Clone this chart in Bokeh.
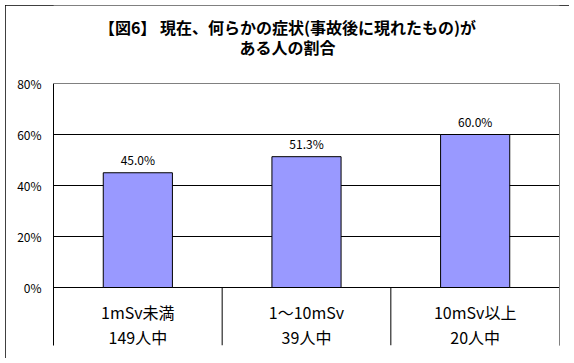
from bokeh.plotting import figure
from bokeh.models import (ColumnDataSource, FixedTicker, Span, LinearAxis,
                          FactorRange, Range1d)
from bokeh.core.properties import value
from bokeh.embed import file_html
from bokeh.resources import INLINE

# ---- data ----
categories = ["1mSv未満", "1〜10mSv", "10mSv以上"]
counts = ["149人中", "39人中", "20人中"]
percent = [45.0, 51.3, 60.0]
ytick_vals = [0, 20, 40, 60, 80]
ytick_labels = ["0%", "20%", "40%", "60%", "80%"]
title_lines = ["【図6】 現在、何らかの症状(事故後に現れたもの)が", "ある人の割合"]

FONT = value("Noto Sans CJK JP")

# ---- geometry (page pixels) ----
M = 5                                   # figure margin -> chart border at 5px
W, H = 564, 353
FL, FR, FT, FB = 53, 559, M, 345        # frame edges on the page
PT = 83                                 # plot area top (80%)
Y0 = 287                                # page y of 0%
ppu = (Y0 - PT) / 80.0                  # pixels per percent
ymin = -(FB - Y0) / ppu
ymax = (Y0 - FT) / ppu
ncat = len(categories)
catw = (FR - FL) / ncat


def xd(px):
    return (px - FL) / catw


def yd(py):
    return (Y0 - py) / ppu


p = figure(width=W, height=H, output_backend="svg", toolbar_location=None,
           x_range=FactorRange(factors=categories, range_padding=0),
           y_range=Range1d(ymin, ymax), x_axis_location=None,
           min_border_left=FL - M, min_border_right=(M + W) - FR,
           min_border_top=0, min_border_bottom=(M + H) - FB)
p.margin = (M, M, M, M)
p.styles = {"outline": "1px solid black", "outline-offset": "-1px"}
p.outline_line_color = None
p.background_fill_color = "white"
p.border_fill_color = "white"

# grid
p.xgrid.visible = False
p.ygrid.ticker = FixedTicker(ticks=ytick_vals[:-1])
p.ygrid.grid_line_color = "black"
p.ygrid.grid_line_width = 1

# y axis
ax = p.yaxis[0]
ax.ticker = FixedTicker(ticks=ytick_vals)
ax.bounds = (ymin, ytick_vals[-1])
ax.major_label_overrides = {v: l for v, l in zip(ytick_vals, ytick_labels)}
ax.major_label_text_font = "Noto Sans CJK JP"
ax.major_label_text_font_size = "12px"
ax.major_label_text_color = "black"
ax.major_label_standoff = 12
ax.major_tick_in = 0
ax.major_tick_out = 0
ax.minor_tick_line_color = None
ax.axis_line_color = "black"

# right edge of plot area
rax = LinearAxis(ticker=FixedTicker(ticks=[]), bounds=(ymin, ytick_vals[-1]),
                 major_label_text_font_size="0px", major_tick_in=0, major_tick_out=0,
                 minor_tick_line_color=None, axis_line_color="#808080")
p.add_layout(rax, "right")

# top edge of plot area
p.add_layout(Span(location=ytick_vals[-1], dimension="width", line_color="#808080", line_width=1))

src = ColumnDataSource(dict(cat=categories, cnt=counts, val=percent,
                            lab=[f"{v:.1f}%" for v in percent]))

# bars
p.vbar(x="cat", top="val", width=0.41, source=src, fill_color="#9999FF",
       line_color="black", line_width=1)

# value labels
p.text(x="cat", y="val", text="lab", source=src, text_font=FONT,
       text_font_size="12px", text_align="center", text_baseline="middle",
       y_offset=-13, text_color="black")

# category dividers
bx = list(range(1, ncat + 1))
p.segment(x0=bx, y0=[ymin] * len(bx), x1=bx, y1=[0] * len(bx),
          line_color="black", line_width=1)

# category labels (two rows)
p.text(x="cat", y=yd(311), text="cat", source=src, text_font=FONT,
       text_font_size="16px", text_align="center", text_baseline="middle",
       text_color="black")
p.text(x="cat", y=yd(336), text="cnt", source=src, text_font=FONT,
       text_font_size="16px", text_align="center", text_baseline="middle",
       text_color="black")

# title
p.text(x=[xd(287)] * 2, y=[yd(26), yd(46)], text=title_lines, text_font=FONT,
       text_font_size="16px", text_font_style="bold",
       text_align="center", text_baseline="middle", text_color="black")

open("out.html", "w").write(file_html(p, INLINE))
